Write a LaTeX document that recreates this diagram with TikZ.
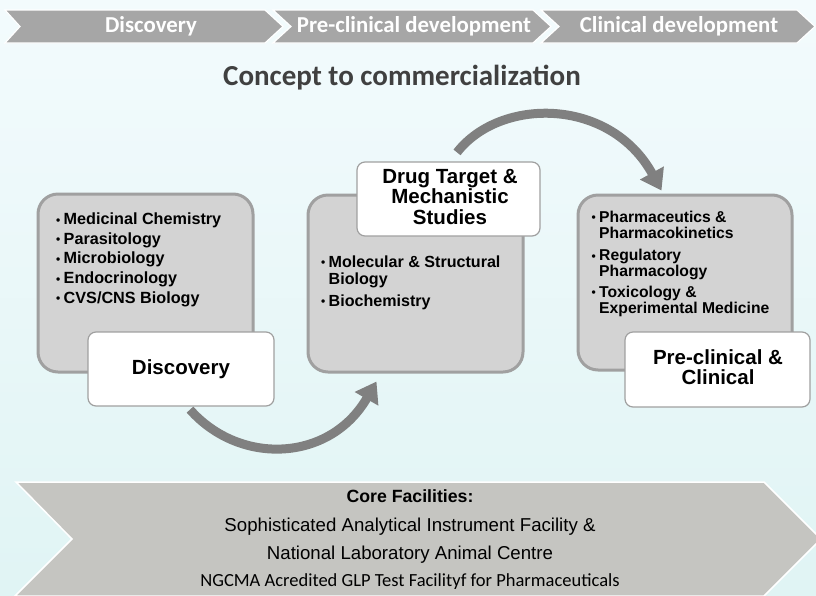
\documentclass[tikz,border=0pt]{standalone}
\usepackage{fontspec}
\setmainfont{Liberation Sans}
\newfontfamily\carl{Carlito}
\usetikzlibrary{arrows.meta,calc}
\definecolor{bgtop}{RGB}{243,251,253}
\definecolor{bgbot}{RGB}{224,244,244}
\definecolor{barg}{RGB}{166,166,166}
\definecolor{coreg}{RGB}{197,197,193}
\definecolor{boxg}{RGB}{211,211,211}
\definecolor{boxline}{RGB}{160,160,160}
\definecolor{arrowg}{RGB}{128,128,128}
\definecolor{titleg}{RGB}{64,64,64}
\newcommand{\bul}{\makebox[7.5pt][l]{\raisebox{0.5pt}{\fontsize{12}{12}\selectfont\textbullet}}}
\newcommand{\nobul}{\hspace*{7.5pt}}
\begin{document}
\begin{tikzpicture}[x=1pt,y=-1pt,
  graybox/.style={draw=boxline, line width=3pt, fill=boxg, rounded corners=20pt, inner sep=0pt},
  whitebox/.style={draw=boxline, line width=1.2pt, fill=white, rounded corners=8pt, inner sep=0pt},
  bla/.style={anchor=base west, inner sep=0pt, font=\fontsize{16.2}{16}\selectfont\bfseries},
  blb/.style={anchor=base west, inner sep=0pt, font=\fontsize{16.1}{16}\selectfont\bfseries},
  blc/.style={anchor=base west, inner sep=0pt, font=\fontsize{15.7}{16}\selectfont\bfseries},
  lab/.style={anchor=base, inner sep=0pt, font=\fontsize{20.5}{21}\selectfont\bfseries},
  bartext/.style={inner sep=0pt, text=white, font=\carl\fontsize{22.8}{23}\selectfont\bfseries},
  chev/.style={fill=barg, draw=white, line width=1.2pt},
  corechev/.style={fill=coreg, draw=white, line width=1.5pt},
  coretext/.style={anchor=base, inner sep=0pt, font=\fontsize{18.65}{19}\selectfont},
  bigarrow/.style={draw=arrowg, line width=9pt, -{Triangle[length=20pt,width=26pt]}, arrowg}
]
\useasboundingbox (0,0) rectangle (816,595);
% background
\shade[top color=bgtop, bottom color=bgbot] (0,0) rectangle (816,595);

% top process bar
\path[chev] (5,10) -- (265,10) -- (283,26.5) -- (265,43) -- (5,43) -- (20,26.5) -- cycle;
\path[chev] (273,10) -- (533,10) -- (551,26.5) -- (533,43) -- (273,43) -- (291,26.5) -- cycle;
\path[chev] (541,10) -- (797,10) -- (815,26.5) -- (797,43) -- (541,43) -- (559,26.5) -- cycle;
\node[bartext] (bt1) at (151,26.5) {Discovery};
\node[bartext] (bt2) at (414,26.5) {Pre-clinical development};
\node[bartext] (bt3) at (679,26.5) {Clinical development};

% title
\node[inner sep=0pt, text=titleg, font=\carl\fontsize{29}{29}\selectfont\bfseries] (title) at (402,78) {Concept to commercialization};

% boxes
\node[graybox, minimum width=215, minimum height=178] (b1) at (145.5,283) {};
\node[graybox, minimum width=215, minimum height=177] (b2) at (415.5,283.5) {};
\node[graybox, minimum width=214, minimum height=175] (b3) at (685,282.5) {};

% box 1 bullets
\node[bla] (l11) at (56,224.5) {\bul Medicinal Chemistry};
\node[bla] (l12) at (56,244.2) {\bul Parasitology};
\node[bla] (l13) at (56,263.9) {\bul Microbiology};
\node[bla] (l14) at (56,283.6) {\bul Endocrinology};
\node[bla] (l15) at (56,303.3) {\bul CVS/CNS Biology};

% box 2 bullets
\node[blb] (l21) at (321,267) {\bul Molecular \& Structural};
\node[blb] (l22) at (321,284) {\nobul Biology};
\node[blb] (l23) at (321,306) {\bul Biochemistry};

% box 3 bullets
\node[blc] (l31) at (591.5,222) {\bul Pharmaceutics \&};
\node[blc] (l32) at (591.5,238) {\nobul Pharmacokinetics};
\node[blc] (l33) at (591.5,260.5) {\bul Regulatory};
\node[blc] (l34) at (591.5,276.5) {\nobul Pharmacology};
\node[blc] (l35) at (591.5,297) {\bul Toxicology \&};
\node[blc] (l36) at (591.5,313.5) {\nobul Experimental Medicine};

% white label boxes
\node[whitebox, minimum width=186, minimum height=74] (w1) at (181,369) {};
\node[whitebox, minimum width=183, minimum height=74] (w2) at (448.5,199) {};
\node[whitebox, minimum width=185, minimum height=75] (w3) at (717.5,369.5) {};

\node[lab] (w1a) at (181,374) {Discovery};
\node[lab] (w2a) at (450,183.5) {Drug Target \&};
\node[lab] (w2b) at (450,203.5) {Mechanistic};
\node[lab] (w2c) at (450,224) {Studies};
\node[lab] (w3a) at (718,364.5) {Pre-clinical \&};
\node[lab] (w3b) at (718,384.5) {Clinical};

% arrows
\coordinate (a1s) at ($(w1.south)+(9,3)$);
\coordinate (a1e) at ($(b2.south west)+(70,8)$);
\draw[bigarrow] (a1s) .. controls (240,466) and (330,462) .. (a1e);
\coordinate (a2s) at ($(w2.north)+(8.5,-9)$);
\coordinate (a2e) at ($(b3.north west)+(85,-3)$);
\draw[bigarrow] (a2s) .. controls (500,97) and (610,97) .. (a2e);

% core facilities chevron
\path[corechev] (16,482) -- (764,482) -- (821,539) -- (764,596) -- (15,596) -- (72,539) -- cycle;
\node[coretext, font=\fontsize{17.7}{18}\selectfont\bfseries] (c1) at (410,502) {Core Facilities:};
\node[coretext] (c2) at (410,531) {Sophisticated Analytical Instrument Facility \&};
\node[coretext] (c3) at (410,559) {National Laboratory Animal Centre};
\node[coretext, font=\carl\fontsize{18.5}{19}\selectfont] (c4) at (410,586) {NGCMA Acredited GLP Test Facilityf for Pharmaceuticals};
\end{tikzpicture}
\end{document}
